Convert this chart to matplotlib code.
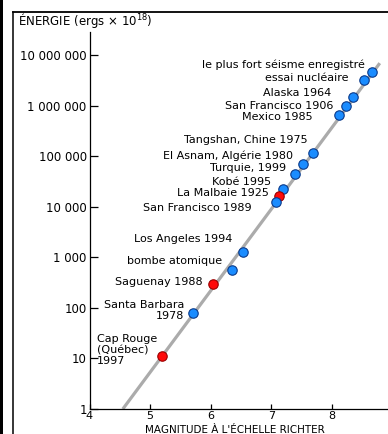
import matplotlib
matplotlib.use("Agg")
import matplotlib.pyplot as plt
from matplotlib.lines import Line2D
from matplotlib.patches import Rectangle

# séismes : magnitude (Richter) et énergie libérée (ergs x 10^18)
noms = [
    "le plus fort séisme enregistré",
    "essai nucléaire",
    "Alaska 1964",
    "San Francisco 1906",
    "Mexico 1985",
    "Tangshan, Chine 1975",
    "El Asnam, Algérie 1980",
    "Turquie, 1999",
    "Kobé 1995",
    "La Malbaie 1925",
    "San Francisco 1989",
    "Los Angeles 1994",
    "bombe atomique",
    "Saguenay 1988",
    "Santa Barbara\n1978",
    "Cap Rouge\n(Québec)\n1997",
]
magnitudes = [8.66, 8.53, 8.34, 8.23, 8.12, 7.68, 7.53, 7.39, 7.20, 7.12, 7.07,
              6.54, 6.35, 6.04, 5.71, 5.20]
energies = [4_700_000, 3_200_000, 1_450_000, 1_000_000, 650_000, 113_000, 69_000,
            44_000, 22_000, 16_000, 12_500, 1_300, 560, 295, 80, 11]
au_quebec = [False, False, False, False, False, False, False, False, False, True,
             False, False, False, True, False, True]

# droite magnitude -> énergie
droite_mag = [4.55, 8.79]
droite_energie = [1, 6_900_000]

y_ticks = [1, 10, 100, 1_000, 10_000, 100_000, 1_000_000, 10_000_000]
y_labels = ["1", "10", "100", "1 000", "10 000", "100 000", "1 000 000", "10 000 000"]
x_ticks = [4, 5, 6, 7, 8]

# décalage (pixels) de chaque étiquette par rapport à son point
decalages = [(-7, 7), (-16, 2), (-21, 4), (-12, 0), (-27, -2), (-5, 13), (-10, 9),
             (-9, 6), (-12, 7), (-10, 3), (-24, -6), (-11, 13), (-10, 9), (-10, 2),
             (-9, 2), (-65, 6)]

plt.rcParams['font.family'] = ['DejaVu Sans']
W, H = 388, 434
fig = plt.figure(figsize=(W / 100, H / 100), dpi=100)

# cadre de la page
fig.add_artist(Rectangle((0, 0), 3 / W, 1, transform=fig.transFigure,
                         color="black", lw=0))
fig.add_artist(Line2D([13 / W, 13 / W], [0, 1 - 12 / H], transform=fig.transFigure,
                      color="black", lw=1.1))
fig.add_artist(Line2D([13 / W, 1], [1 - 12 / H, 1 - 12 / H], transform=fig.transFigure,
                      color="black", lw=1.3))

ax = fig.add_axes([89.5 / W, 25 / H, (W - 89.5) / W, (409 - 32) / H])
ax.set_yscale("log")
ax.set_xlim(4, 4 + (W - 89.5) / 60.6)
ax.set_ylim(1, 10 ** (377 / 50.57))

ax.plot(droite_mag, droite_energie, color="#ababab", lw=2.3,
        solid_capstyle="butt", zorder=2)

for nom, m, e, q, (dx, dy) in zip(noms, magnitudes, energies, au_quebec, decalages):
    if q:
        fc, ec = "#ff0a0a", "#9a0000"
    else:
        fc, ec = "#1a8cff", "#0a3a8a"
    ax.plot(m, e, "o", ms=6.8, mfc=fc, mec=ec, mew=0.8, zorder=3)
    ha = "left" if nom.startswith("Cap") else "right"
    ax.annotate(nom, (m, e), xytext=(dx, dy), textcoords="offset pixels",
                ha=ha, va="center", fontsize=8, multialignment=ha,
                linespacing=1.12)

ax.set_yticks(y_ticks)
ax.set_yticklabels(y_labels)
ax.minorticks_off()
ax.set_xticks(x_ticks)
ax.tick_params(axis="y", direction="in", length=6, width=0.9, pad=2, labelsize=8.5)
ax.tick_params(axis="x", direction="in", length=3.5, width=0.9, pad=1.5, labelsize=8)
for s in ["top", "right"]:
    ax.spines[s].set_visible(False)
for s in ["left", "bottom"]:
    ax.spines[s].set_linewidth(0.9)

fig.text(18 / W, 1 - 20 / H, "ÉNERGIE (ergs × 10$^{18}$)", ha="left", va="center",
         fontsize=8.5)
fig.text(235 / W, 1 - 425 / H, "MAGNITUDE À L'ÉCHELLE RICHTER", ha="center",
         va="top", fontsize=7.5)

fig.savefig("out.png", dpi=100)
